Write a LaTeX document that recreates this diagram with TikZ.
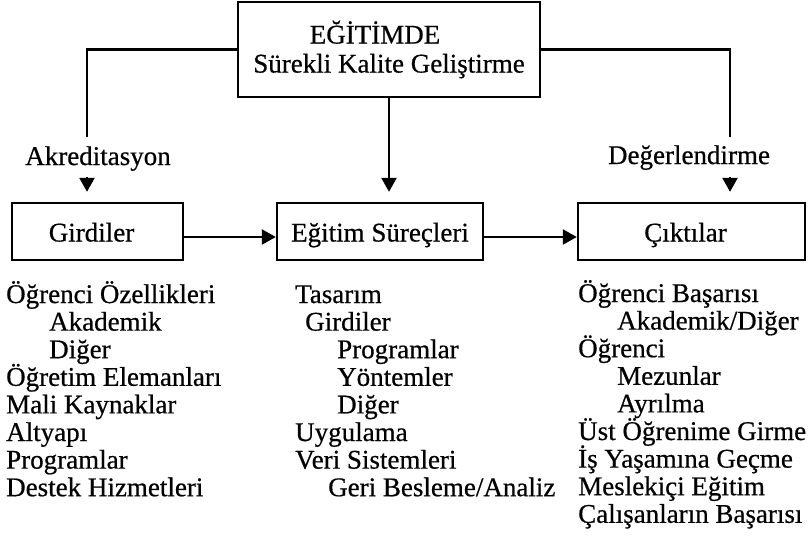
\documentclass[tikz,border=0pt]{standalone}
\usepackage{fontspec}
\setmainfont[FakeBold=0.6]{Liberation Serif}
\usetikzlibrary{arrows.meta}

\newcommand{\tightlines}{\lineskiplimit=-30pt\relax\lineskip=0pt\relax}

\tikzset{
  boxnode/.style={draw, line width=2.4pt, inner sep=0pt, align=center},
  flow/.style={line width=2.4pt, -{Triangle[length=14pt,width=15pt]}},
  listtext/.style={anchor=base west, align=left, inner sep=0pt}
}

\begin{document}
\begin{tikzpicture}[x=1pt, y=-1pt,
    font=\fontsize{27}{27.6}\selectfont\tightlines]
  \useasboundingbox (0,0) rectangle (810,555);

  % main box
  \node[boxnode, minimum width=302pt, minimum height=95pt] (top) at (389,49.5)
    {EĞİTİMDE\hspace*{28pt}\\[1.4pt] Sürekli Kalite Geliştirme};

  % the three stages
  \tikzset{stage/.style={boxnode, minimum height=57pt, text height=22pt, text depth=2pt}}
  \node[stage, minimum width=171pt] (girdi) at (97.5,231.5) {Girdiler\hspace*{12pt}};
  \node[stage, minimum width=206pt] (surec) at (380,231.5) {Eğitim Süreçleri};
  \node[stage, minimum width=227pt] (cikti) at (691.5,231.5) {Çıktılar\hspace*{12pt}};

  \node[anchor=base, inner sep=0pt] (akr) at (98,165) {Akreditasyon};
  \node[anchor=base, inner sep=0pt] (deg) at (689,164) {Değerlendirme};

  \coordinate (akrend) at (87,137);
  \coordinate (degend) at (730,137);
  \coordinate (akrtip) at (87,177);
  \coordinate (degtip) at (730,177);

  \draw[line width=2.4pt] (top.west) -| (akrend);
  \draw[line width=2.4pt] (top.east) -| (degend);
  \draw[flow] (akrtip) -- ([yshift=10pt]girdi.north -| akrtip);
  \draw[flow] (degtip) -- ([yshift=10pt]cikti.north -| degtip);
  \draw[flow] (top.south) -- ([yshift=10pt]surec.north -| top.south);

  \draw[flow] ([yshift=-5.5pt]girdi.east) -- ([yshift=-5.5pt]surec.west);
  \draw[flow] ([yshift=-5.5pt]surec.east) -- ([yshift=-5.5pt]cikti.west);

  % lists under the boxes (base = last line)
  \node[listtext] (girdilist) at (6,496.2) {Öğrenci Özellikleri\\
    \hspace*{43pt}Akademik\\
    \hspace*{43pt}Diğer\\
    Öğretim Elemanları\\
    Mali Kaynaklar\\
    Altyapı\\
    Programlar\\
    Destek Hizmetleri};
  \node[listtext] (sureclist) at (295,496.2) {Tasarım\\
    \hspace*{10pt}Girdiler\\
    \hspace*{42pt}Programlar\\
    \hspace*{42pt}Yöntemler\\
    \hspace*{42pt}Diğer\\
    Uygulama\\
    Veri Sistemleri\\
    \hspace*{33pt}Geri Besleme/Analiz};
  \node[listtext] (ciktilist) at (578,522.8) {Öğrenci Başarısı\\
    \hspace*{39pt}Akademik/Diğer\\
    Öğrenci\\
    \hspace*{39pt}Mezunlar\\
    \hspace*{39pt}Ayrılma\\
    Üst Öğrenime Girme\\
    İş Yaşamına Geçme\\
    Meslekiçi Eğitim\\
    Çalışanların Başarısı};
\end{tikzpicture}
\end{document}
